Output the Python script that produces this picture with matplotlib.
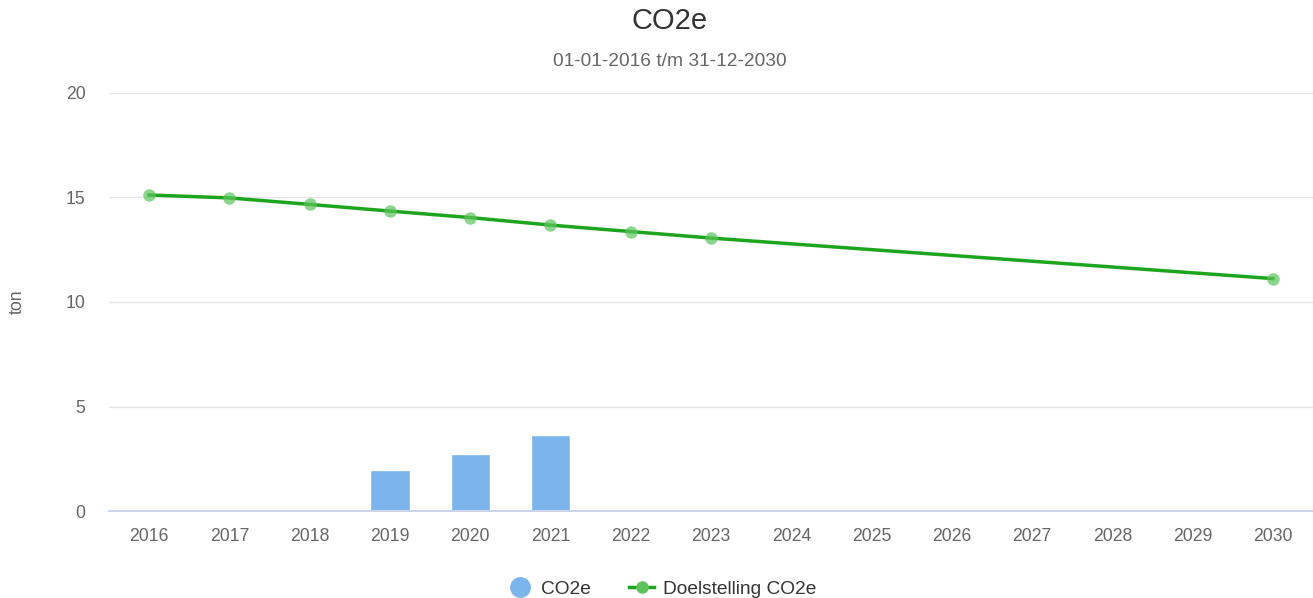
import matplotlib.pyplot as plt
from matplotlib.lines import Line2D

plt.rcParams['font.family'] = ['Liberation Sans', 'DejaVu Sans']

jaren = ['2016', '2017', '2018', '2019', '2020', '2021', '2022', '2023',
         '2024', '2025', '2026', '2027', '2028', '2029', '2030']
# gemeten CO2e (ton), alleen 2019-2021
bar_jaren = ['2019', '2020', '2021']
bar_waarden = [1.96, 2.73, 3.64]
# doelstelling
doel_jaren = ['2016', '2017', '2018', '2019', '2020', '2021', '2022', '2023', '2030']
doel_waarden = [15.12, 14.98, 14.67, 14.35, 14.04, 13.68, 13.37, 13.06, 11.12]

fig = plt.figure(figsize=(13.13, 5.98), dpi=100)
ax = fig.add_axes([109 / 1313, 1 - 511 / 598, 1 - 109 / 1313, (511 - 93) / 598])

pos = {j: i for i, j in enumerate(jaren)}
ax.bar([pos[j] for j in bar_jaren], bar_waarden, width=0.49, color='#7cb5ec',
       edgecolor='white', linewidth=1, zorder=3)
ax.plot([pos[j] for j in doel_jaren], doel_waarden, color='#1ea51e', linewidth=2.5, zorder=4)
ax.plot([pos[j] for j in doel_jaren], doel_waarden, 'o', color='#5cc45c', alpha=0.7,
        markersize=9, markeredgewidth=0, zorder=5)

ax.set_xlim(-0.5, len(jaren) - 0.5)
ax.set_ylim(0, 20)
ax.set_xticks(range(len(jaren)))
ax.set_xticklabels(jaren)
ax.set_yticks([0, 5, 10, 15, 20])
ax.tick_params(axis='both', length=0, labelsize=12.7, colors='#666666')
ax.tick_params(axis='x', pad=12)
ax.tick_params(axis='y', pad=17)
for lbl in ax.get_yticklabels():
    lbl.set_horizontalalignment('right')
ax.grid(axis='y', color='#e6e6e6', linewidth=1, zorder=0)
for s in ['top', 'right', 'left']:
    ax.spines[s].set_visible(False)
ax.spines['bottom'].set_color('#ccd6eb')
ax.spines['bottom'].set_linewidth(1.5)
ax.spines['bottom'].set_zorder(6)

fig.text(17 / 1313, 1 - 302 / 598, 'ton', rotation=90, ha='center', va='center',
         fontsize=12.7, color='#666666')
fig.text(670 / 1313, 1 - 21 / 598, 'CO2e', ha='center', va='center', fontsize=21, color='#333333')
fig.text(670 / 1313, 1 - 61 / 598, '01-01-2016 t/m 31-12-2030', ha='center', va='center',
         fontsize=13.8, color='#666666')

handles = [
    Line2D([], [], marker='o', linestyle='none', color='#7cb5ec', markersize=14),
    Line2D([], [], marker='o', color='#1ea51e', markerfacecolor='#5cc45c',
           markeredgewidth=0, markersize=9, linewidth=2.5),
]
fig.legend(handles, ['CO2e', 'Doelstelling CO2e'], loc='center', ncol=2,
           bbox_to_anchor=(662 / 1313, 1 - 589 / 598), frameon=False, fontsize=13.8,
           labelcolor='#333333', handlelength=1.3, columnspacing=2.0, handletextpad=0.45)

fig.savefig('out.png', dpi=100)
